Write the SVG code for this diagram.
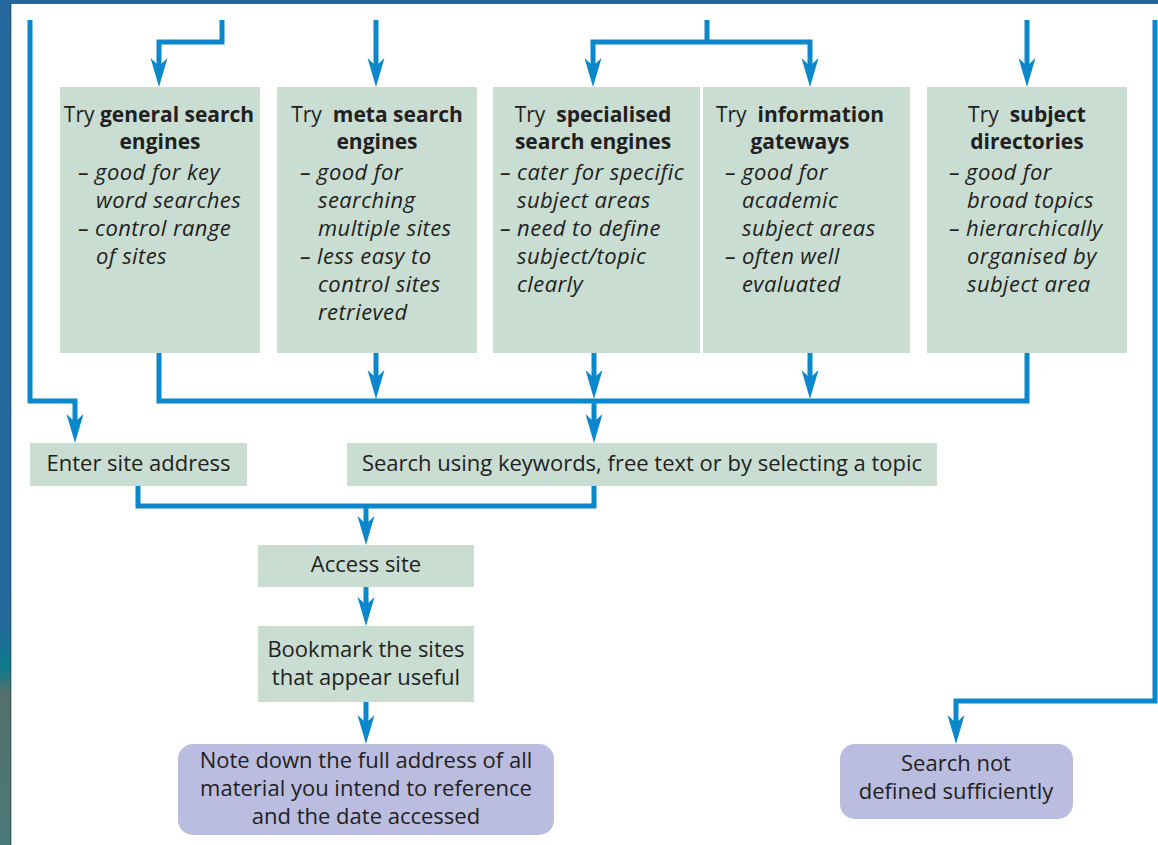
<svg xmlns="http://www.w3.org/2000/svg" xmlns:xlink="http://www.w3.org/1999/xlink" width="1158" height="845" viewBox="0 0 1158 845">
<style>
.box{fill:#c9ddd3}
.term{fill:#babde0}
.t{font-family:"Open Sans","Noto Sans","DejaVu Sans",sans-serif;font-size:22px;fill:#231f20}
.h{font-size:21px}
.c{text-anchor:middle}
.b{font-weight:700}
.i{font-style:italic;letter-spacing:0.4px}
.ln{fill:none;stroke:#0b87cc;stroke-width:5;stroke-linejoin:miter;stroke-linecap:butt}
.ah{fill:#0b87cc}
</style>
<defs>
<linearGradient id="strip" x1="0" y1="0" x2="0" y2="1">
<stop offset="0" stop-color="#23679c"/>
<stop offset="0.74" stop-color="#236a9c"/>
<stop offset="0.79" stop-color="#0e7a8f"/>
<stop offset="0.82" stop-color="#55706a"/>
<stop offset="1" stop-color="#4a7a78"/>
</linearGradient>
<path id="ah" d="M0,0 L-8.5,-29 L0,-21 L8.5,-29 Z"/>
</defs>
<rect x="0" y="0" width="1158" height="845" fill="#ffffff"/>
<rect x="0" y="0" width="1158" height="3" fill="#23679c"/>
<rect x="0" y="0" width="11" height="845" fill="url(#strip)"/>
<rect x="10.5" y="3" width="0.8" height="842" fill="#2b3b45"/>
<rect x="11" y="3" width="1147" height="0.8" fill="#2b3b45"/>

<g id="connectors">
<path class="ln" d="M30,20 V401 H75 V428"/>
<path class="ln" d="M222,20 V42 H159 V72"/>
<path class="ln" d="M376,20 V72"/>
<path class="ln" d="M707,20 V42"/>
<path class="ln" d="M593,72 V42 H810 V72"/>
<path class="ln" d="M1027,20 V72"/>
<path class="ln" d="M159,353 V401 H1027 V353"/>
<path class="ln" d="M376,353 V384"/>
<path class="ln" d="M594,353 V384"/>
<path class="ln" d="M810,353 V384"/>
<path class="ln" d="M594,401 V428"/>
<path class="ln" d="M138,486 V506 H594 V486"/>
<path class="ln" d="M366,506 V530"/>
<path class="ln" d="M366,587 V611"/>
<path class="ln" d="M366,702 V729"/>
<path class="ln" d="M1155,20 V701 H956 V729"/>
<use xlink:href="#ah" class="ah" x="75" y="443"/>
<use xlink:href="#ah" class="ah" x="159" y="87"/>
<use xlink:href="#ah" class="ah" x="376" y="87"/>
<use xlink:href="#ah" class="ah" x="593" y="87"/>
<use xlink:href="#ah" class="ah" x="810" y="87"/>
<use xlink:href="#ah" class="ah" x="1027" y="87"/>
<use xlink:href="#ah" class="ah" x="376" y="399"/>
<use xlink:href="#ah" class="ah" x="594" y="399"/>
<use xlink:href="#ah" class="ah" x="810" y="399"/>
<use xlink:href="#ah" class="ah" x="594" y="443"/>
<use xlink:href="#ah" class="ah" x="366" y="545"/>
<use xlink:href="#ah" class="ah" x="366" y="626"/>
<use xlink:href="#ah" class="ah" x="366" y="744"/>
<use xlink:href="#ah" class="ah" x="956" y="744"/>
</g>

<g id="general">
<rect class="box" x="60" y="87" width="200" height="266"/>
<text class="t h c" x="159" y="122">Try <tspan class="b">general search</tspan></text>
<text class="t h c b" x="160" y="149">engines</text>
<text class="t i" x="78" y="180">– good for key</text>
<text class="t i" x="96" y="208">word searches</text>
<text class="t i" x="78" y="236">– control range</text>
<text class="t i" x="96" y="264">of sites</text>
</g>

<g id="meta">
<rect class="box" x="277" y="87" width="200" height="266"/>
<text class="t h c" x="377" y="122" xml:space="preserve">Try  <tspan class="b">meta search</tspan></text>
<text class="t h c b" x="377" y="149">engines</text>
<text class="t i" x="300" y="180">– good for</text>
<text class="t i" x="318" y="208">searching</text>
<text class="t i" x="318" y="236">multiple sites</text>
<text class="t i" x="300" y="264">– less easy to</text>
<text class="t i" x="318" y="292">control sites</text>
<text class="t i" x="318" y="320">retrieved</text>
</g>

<g id="specialised">
<rect class="box" x="493" y="87" width="207" height="266"/>
<text class="t h c" x="593" y="122" xml:space="preserve">Try  <tspan class="b">specialised</tspan></text>
<text class="t h c b" x="593" y="149">search engines</text>
<text class="t i" x="500" y="180">– cater for specific</text>
<text class="t i" x="517" y="208">subject areas</text>
<text class="t i" x="500" y="236">– need to define</text>
<text class="t i" x="517" y="264">subject/topic</text>
<text class="t i" x="517" y="292">clearly</text>
</g>

<g id="gateways">
<rect class="box" x="703" y="87" width="207" height="266"/>
<text class="t h c" x="800" y="122" xml:space="preserve">Try  <tspan class="b">information</tspan></text>
<text class="t h c b" x="800" y="149">gateways</text>
<text class="t i" x="725" y="180">– good for</text>
<text class="t i" x="742" y="208">academic</text>
<text class="t i" x="742" y="236">subject areas</text>
<text class="t i" x="725" y="264">– often well</text>
<text class="t i" x="742" y="292">evaluated</text>
</g>

<g id="directories">
<rect class="box" x="927" y="87" width="200" height="266"/>
<text class="t h c" x="1027" y="122" xml:space="preserve">Try  <tspan class="b">subject</tspan></text>
<text class="t h c b" x="1027" y="149">directories</text>
<text class="t i" x="949" y="180">– good for</text>
<text class="t i" x="967" y="208">broad topics</text>
<text class="t i" x="949" y="236">– hierarchically</text>
<text class="t i" x="967" y="264">organised by</text>
<text class="t i" x="967" y="292">subject area</text>
</g>

<g id="enter">
<rect class="box" x="30" y="443" width="217" height="43"/>
<text class="t c" x="138.5" y="471">Enter site address</text>
</g>

<g id="search">
<rect class="box" x="347" y="443" width="590" height="43"/>
<text class="t c" x="642" y="471">Search using keywords, free text or by selecting a topic</text>
</g>

<g id="access">
<rect class="box" x="258" y="545" width="216" height="42"/>
<text class="t c" x="366" y="572">Access site</text>
</g>

<g id="bookmark">
<rect class="box" x="258" y="626" width="216" height="76"/>
<text class="t c" x="366" y="657">Bookmark the sites</text>
<text class="t c" x="366" y="685">that appear useful</text>
</g>

<g id="note">
<rect class="term" x="178" y="744" width="376" height="91" rx="15"/>
<text class="t c" x="366" y="768">Note down the full address of all</text>
<text class="t c" x="366" y="796">material you intend to reference</text>
<text class="t c" x="366" y="824">and the date accessed</text>
</g>

<g id="notdefined">
<rect class="term" x="840" y="744" width="233" height="75" rx="15"/>
<text class="t c" x="956" y="771">Search not</text>
<text class="t c" x="956" y="799">defined sufficiently</text>
</g>
</svg>
